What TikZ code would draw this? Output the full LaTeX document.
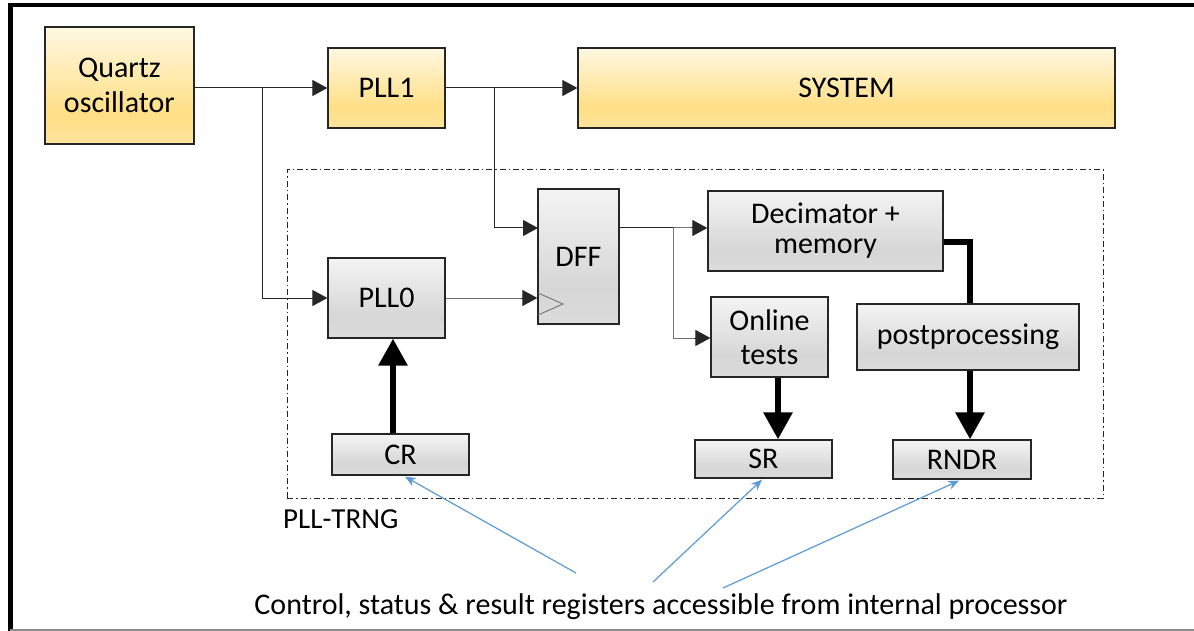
\documentclass[tikz,border=0pt]{standalone}
\usepackage{fontspec}
\setmainfont{Carlito}
\usetikzlibrary{arrows.meta,calc}
\definecolor{yt}{HTML}{FFF8E2}
\definecolor{ym}{HTML}{FFDF86}
\definecolor{yb}{HTML}{FFE49C}
\definecolor{gt}{HTML}{F4F4F4}
\definecolor{gm}{HTML}{D6D6D6}
\definecolor{gb}{HTML}{DCDCDC}
\definecolor{bluearrow}{HTML}{5B9BD5}
\pgfdeclareverticalshading{yshade}{100bp}{color(0bp)=(yb);color(25bp)=(yb);color(38bp)=(ym);color(75bp)=(yt);color(100bp)=(yt)}
\pgfdeclareverticalshading{gshade}{100bp}{color(0bp)=(gb);color(25bp)=(gb);color(38bp)=(gm);color(75bp)=(gt);color(100bp)=(gt)}
\tikzset{
  box/.style={draw=black!85, line width=1.3pt, inner sep=0pt, align=center, font=\fontsize{30}{35}\selectfont},
  ybox/.style={box, shading=yshade},
  gbox/.style={box, shading=gshade},
  wire/.style={line width=1pt, draw=black!85},
  graywire/.style={line width=1pt, draw=black!55},
  tip/.style={-{Triangle[length=15pt,width=16pt]}},
  bus/.style={line width=6pt, draw=black},
  busarrow/.style={bus, -{Triangle[length=27pt,width=28pt]}},
  bluearr/.style={draw=bluearrow, line width=1.2pt, -{Stealth[length=11pt,width=9pt]}},
  dashdotframe/.style={draw=black!85, line width=1pt, dash pattern=on 6pt off 3pt on 1.5pt off 3pt}
}
\begin{document}
\begin{tikzpicture}[x=1pt,y=-1pt]
\useasboundingbox (0,0) rectangle (1194,631);
\fill[white] (0,0) rectangle (1194,631);
% outer frame
\draw[line width=4.5pt] (10.5,631) -- (10.5,5) -- (1194,5);
\draw[black!45, line width=1.5pt] (10,630) -- (1194,630);

% PLL-TRNG dash-dot frame
\node[dashdotframe, minimum width=816pt, minimum height=328pt, inner sep=0pt] (trng) at (695,334) {};

% boxes
\node[ybox, minimum width=149pt, minimum height=117pt] (quartz) at (119.5,85.5) {Quartz\\oscillator};
\node[ybox, minimum width=117pt, minimum height=80pt] (pll1) at (386.5,88) {PLL1};
\node[ybox, minimum width=537pt, minimum height=80pt] (system) at (846.5,88) {SYSTEM};
\node[gbox, minimum width=81pt, minimum height=135pt] (dff) at (578.5,256.5) {DFF};
\node[gbox, minimum width=235pt, minimum height=80pt, font=\fontsize{30}{30}\selectfont] (dec) at (825.5,231) {Decimator +\\memory};
\node[gbox, minimum width=117pt, minimum height=80pt] (pll0) at (386.5,298) {PLL0};
\node[gbox, minimum width=117pt, minimum height=80pt, font=\fontsize{30}{34}\selectfont] (online) at (769.5,337) {Online\\tests};
\node[gbox, minimum width=222pt, minimum height=66pt] (post) at (968,337) {postprocessing};
\node[gbox, minimum width=137pt, minimum height=41pt] (cr) at (400.5,454.5) {CR};
\node[gbox, minimum width=137pt, minimum height=38pt] (sr) at (763.5,459) {SR};
\node[gbox, minimum width=138pt, minimum height=39pt] (rndr) at (962,459.5) {RNDR};

% clock triangle
\draw[black!55, line width=0.9pt] (538,293) -- (563,304) -- (538,315);

% thin wires
\coordinate (j1) at (262,88);
\coordinate (j2) at (494,88);
\coordinate (dffd) at (538,228);
\coordinate (j3) at (673,228);
\draw[wire, tip] (quartz.east |- pll1) -- (pll1.west);
\draw[wire, tip] (j1) |- (pll0.west);
\draw[wire, tip] (pll1.east) -- (system.west);
\draw[wire, tip] (j2) |- (dffd);
\draw[graywire] (pll0.east) -- ($(dff.west |- pll0)+(-15,0)$);
\draw[wire, tip] ($(dff.west |- pll0)+(-16,0)$) -- (dff.west |- pll0);
\draw[wire] (dff.east |- dffd) -- (j3);
\draw[graywire] (j3) -- ($(dec.west |- dffd)+(-15,0)$);
\draw[wire, tip] ($(dec.west |- dffd)+(-16,0)$) -- (dec.west |- dffd);
\draw[graywire] (j3) |- ($(online.west)+(-15,1)$);
\draw[wire, tip] ($(online.west)+(-16,1)$) -- ($(online.west)+(0,1)$);

% thick buses
\coordinate (px) at (970,242);
\coordinate (crx) at (393,0);
\coordinate (srx) at (778,0);
\draw[bus, line join=miter] (dec.east |- px) -- (px) -- (post.north -| px);
\draw[busarrow] (post.south -| px) -- (rndr.north -| px);
\draw[busarrow] (online.south -| srx) -- (sr.north -| srx);
\draw[busarrow] (cr.north -| crx) -- (pll0.south -| crx);

% labels
\node[anchor=west, inner sep=0pt, font=\fontsize{29}{33}\selectfont] (trnglabel) at (283,519) {PLL-TRNG};
\node[inner sep=0pt, font=\fontsize{30}{34}\selectfont] (caption) at (661,607) {Control, status \& result registers accessible from internal processor};

% blue arrows
\coordinate (b1) at (576,573);
\coordinate (b2) at (653,582);
\coordinate (b3) at (723,588);
\draw[bluearr] (b1) -- ($(cr.south)+(4.5,1)$);
\draw[bluearr] (b2) -- ($(sr.south)+(-1.5,1)$);
\draw[bluearr] (b3) -- ($(rndr.south)+(-3,1)$);
\end{tikzpicture}
\end{document}
